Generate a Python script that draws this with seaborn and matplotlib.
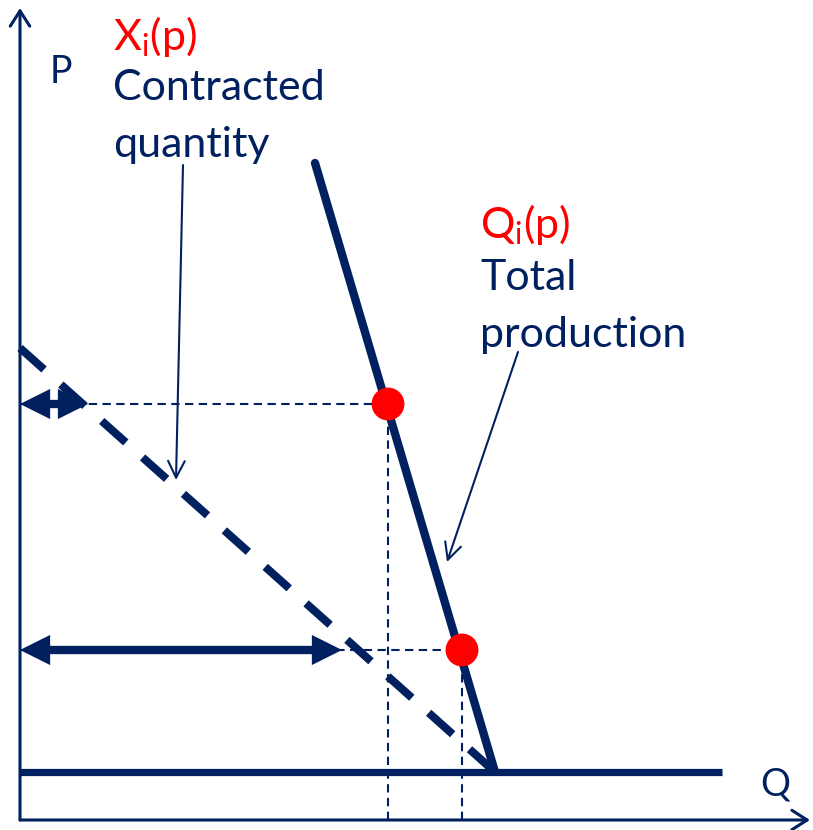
import matplotlib
matplotlib.use('Agg')
import matplotlib.pyplot as plt
import seaborn as sns
import pandas as pd
from matplotlib.patches import FancyArrowPatch

NAVY = '#002060'
RED = '#ff0000'

# quantities (Q) and prices (P), origin at the corner of the axes
supply_q = [295, 475]
supply_p = [657, 48]
contract_q = [0, 475]
contract_p = [472, 48]
floor_q = [0, 702]
floor_p = [48, 48]
prices = [416, 170]
total_q = [368, 442]
contracted_q = [68, 322]

sns.set_style("white")
plt.rcParams['font.family'] = ['Lato', 'DejaVu Sans']
plt.rcParams['mathtext.fontset'] = 'custom'
plt.rcParams['mathtext.rm'] = 'Lato'

fig = plt.figure(figsize=(8.13, 8.30), dpi=100)
ax = fig.add_axes([0, 0, 1, 1])
ax.set_xlim(-20, 793)
ax.set_ylim(-10, 820)
ax.set_axis_off()

# axes with open arrow heads
axis_arrow = dict(arrowstyle='->,head_length=11,head_width=7', mutation_scale=1,
                  lw=2.2, color=NAVY, shrinkA=0, shrinkB=0)
ax.annotate('', xy=(0, 812), xytext=(0, 0), arrowprops=axis_arrow)
ax.annotate('', xy=(790, 0), xytext=(0, 0), arrowprops=axis_arrow)

# thin dashed guides
for q, p in zip(total_q, prices):
    ax.plot([0, q], [p, p], color=NAVY, lw=1.5, dashes=(4, 2.6), zorder=2)
    ax.plot([q, q], [0, p], color=NAVY, lw=1.5, dashes=(4, 2.6), zorder=2)

# curves
df_s = pd.DataFrame({'Q': supply_q, 'P': supply_p})
sns.lineplot(data=df_s, x='Q', y='P', color=NAVY, lw=6, sort=False, ax=ax, zorder=3)
ax.plot(floor_q, floor_p, color=NAVY, lw=5.2, solid_capstyle='butt', zorder=3)
ax.plot(contract_q, contract_p, color=NAVY, lw=5.8, dashes=(4, 2.8), zorder=3)

# double arrows for contracted quantity
for q, p in zip(contracted_q, prices):
    arr = FancyArrowPatch((0, p), (q, p), arrowstyle='<|-|>,head_length=12,head_width=6',
                          mutation_scale=1, lw=6, color=NAVY, shrinkA=0, shrinkB=0,
                          joinstyle='miter', capstyle='butt', zorder=4)
    ax.add_patch(arr)

# equilibrium points
df_pts = pd.DataFrame({'Q': total_q, 'P': prices})
sns.scatterplot(data=df_pts, x='Q', y='P', color=RED, s=560, edgecolor='none', ax=ax, zorder=5)

# labels
ax.text(30, 737, 'P', color=NAVY, fontsize=27, va='baseline')
ax.text(740, 25, 'Q', color=NAVY, fontsize=27, va='baseline')
ax.text(93, 770, r'X$_{\mathrm{i}}$(p)', color=RED, fontsize=31, va='baseline')
ax.text(93, 720, 'Contracted', color=NAVY, fontsize=31, va='baseline')
ax.text(93, 663, 'quantity', color=NAVY, fontsize=31, va='baseline')
ax.text(460, 582, r'Q$_{\mathrm{i}}$(p)', color=RED, fontsize=31, va='baseline')
ax.text(460, 530, 'Total', color=NAVY, fontsize=31, va='baseline')
ax.text(460, 473, 'production', color=NAVY, fontsize=31, va='baseline')

pointer = dict(arrowstyle='->,head_length=12,head_width=6', mutation_scale=1,
               lw=1.5, color=NAVY, shrinkA=0, shrinkB=0)
ax.annotate('', xy=(156, 340), xytext=(163, 655), arrowprops=pointer)
ax.annotate('', xy=(427, 258), xytext=(498, 468), arrowprops=pointer)

fig.savefig('out.png', dpi=100)
